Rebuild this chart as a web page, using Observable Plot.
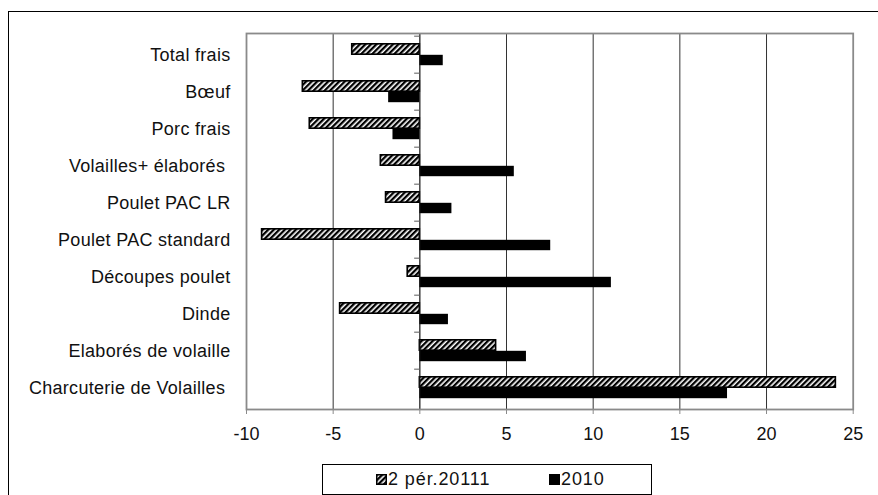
<!DOCTYPE html>
<html>
<head>
<meta charset="utf-8">
<script src="https://cdn.jsdelivr.net/npm/d3@7"></script>
<script src="https://cdn.jsdelivr.net/npm/@observablehq/plot@0.6"></script>
<style>
  html, body { margin: 0; padding: 0; background: #fff; overflow: hidden; width: 878px; height: 495px; }
  #wrap { position: relative; width: 878px; height: 495px; font-family: "Liberation Sans", Arial, sans-serif; }
  #outer { position: absolute; left: 8px; top: 11px; width: 900px; height: 520px; border: 1.5px solid #000; box-sizing: border-box; }
  #chart { position: absolute; left: 0; top: 0; }
  #legend { position: absolute; left: 322px; top: 464px; width: 330px; height: 31px; border: 1px solid #000; box-sizing: border-box; background: #fff;
    font-size: 18px; letter-spacing: 0.9px; color: #111; }
  .item { position: absolute; top: 4px; display: flex; align-items: center; height: 21px; }
  .item svg { margin-right: 1px; }
</style>
</head>
<body>
<div id="wrap">
  <div id="outer"></div>
  <div id="chart"></div>
  <div id="legend"></div>
</div>
<script>
const categories = [
  "Total frais", "Bœuf", "Porc frais", "Volailles+ élaborés\u00a0", "Poulet PAC LR",
  "Poulet PAC standard", "Découpes poulet", "Dinde", "Elaborés de volaille", "Charcuterie de Volailles\u00a0"
];
const seriesNames = ["2 pér.20111", "2010"];
const valuesPer2011 = [-3.9, -6.75, -6.35, -2.25, -1.95, -9.1, -0.7, -4.6, 4.4, 24.0];
const values2010 = [1.35, -1.8, -1.55, 5.45, 1.85, 7.55, 11.05, 1.65, 6.15, 17.75];
const xTicks = [-10, -5, 0, 5, 10, 15, 20, 25];
const gridTicks = [-5, 5, 10, 15, 20];

const rows = categories.map((c, i) => ({cat: c, a: valuesPer2011[i], b: values2010[i]}));
const half = (409 - 33) / 10 / 2; // half band height in px
const barH = 11;

const plot = Plot.plot({
  width: 878,
  height: 455,
  marginTop: 33,
  marginLeft: 246,
  marginRight: 25.3,
  marginBottom: 46,
  style: {fontFamily: "'Liberation Sans', Arial, sans-serif", fontSize: "18px", color: "#111", background: "transparent"},
  x: {domain: [-10, 25], ticks: xTicks, tickFormat: d => String(d), tickSize: 5, tickPadding: 13, label: null, line: false},
  y: {domain: categories, padding: 0, label: null, tickSize: 0, tickPadding: 16},
  marks: [
    Plot.ruleX(gridTicks, {stroke: "#333", strokeWidth: 1}),
    Plot.barX(rows, {y: "cat", x1: 0, x2: "a", fill: "url(#hatch)", stroke: "#000", strokeWidth: 1.6,
      insetTop: half - barH, insetBottom: half}),
    Plot.barX(rows, {y: "cat", x1: 0, x2: "b", fill: "#000",
      insetTop: half, insetBottom: half - barH}),
    Plot.ruleX([0], {stroke: "#111", strokeWidth: 1.2}),
    Plot.ruleY(categories, {y: d => d, x1: -0.3, x2: 0, dy: -half, stroke: "#777", strokeWidth: 1.2}),
    Plot.frame({stroke: "#8a8a8a", strokeWidth: 1.8})
  ]
});

// hatch pattern
const defs = d3.select(plot).insert("defs", ":first-child");
const pat = defs.append("pattern").attr("id", "hatch").attr("patternUnits", "userSpaceOnUse")
  .attr("width", 3.9).attr("height", 3.9).attr("patternTransform", "rotate(45)");
pat.append("rect").attr("width", 3.9).attr("height", 3.9).attr("fill", "#fff");
pat.append("rect").attr("width", 2.3).attr("height", 3.9).attr("fill", "#000");

// axis styling
d3.select(plot).selectAll("[aria-label='x-axis tick'] path, [aria-label='x-axis tick'] line").attr("stroke", "#8a8a8a");
d3.select(plot).selectAll("[aria-label='y-axis tick label'] text").style("letter-spacing", "0.3px");
document.getElementById("chart").appendChild(plot);

// legend
const legend = document.getElementById("legend");
const items = [
  {name: seriesNames[0], left: 53, hatch: true},
  {name: seriesNames[1], left: 226, hatch: false}
];
items.forEach(it => {
  const d = document.createElement("div");
  d.className = "item";
  d.style.left = it.left + "px";
  d.innerHTML = `<svg width="11" height="11">
    <defs><pattern id="lh${it.left}" patternUnits="userSpaceOnUse" width="3.9" height="3.9" patternTransform="rotate(45)">
    <rect width="3.9" height="3.9" fill="#fff"/><rect width="2.3" height="3.9" fill="#000"/></pattern></defs>
    <rect x="0.75" y="0.75" width="9.5" height="9.5" fill="${it.hatch ? `url(#lh${it.left})` : "#000"}" stroke="#000" stroke-width="1.5"/></svg><span>${it.name}</span>`;
  legend.appendChild(d);
});
</script>
</body>
</html>
